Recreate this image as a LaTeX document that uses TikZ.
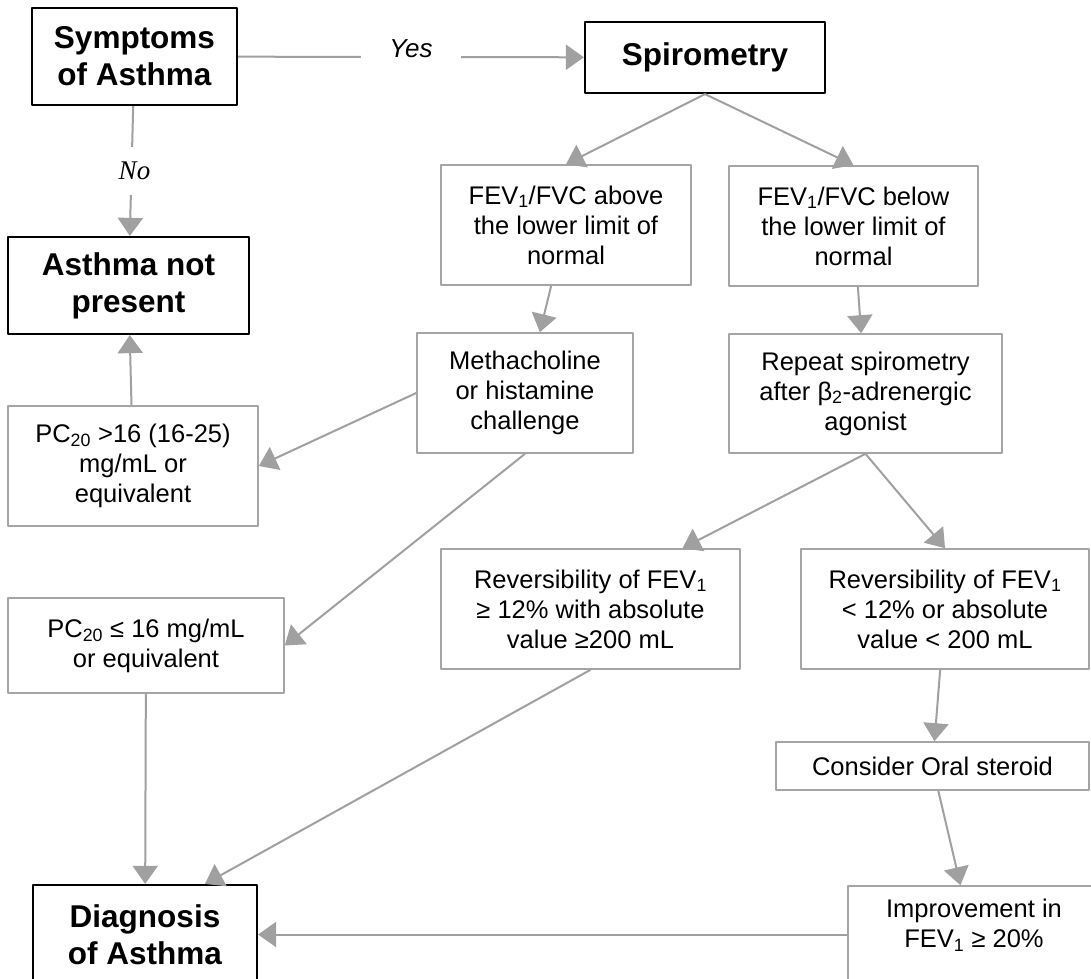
\documentclass[tikz,border=0pt]{standalone}
\usepackage{fontspec}
\setmainfont{Liberation Sans}
\newfontfamily\noserif{Liberation Serif}
\usetikzlibrary{arrows.meta}
\definecolor{linegray}{RGB}{160,160,160}
\definecolor{boxgray}{RGB}{165,165,165}
\newcommand{\txtsize}{\fontsize{25.5}{30}\selectfont}
\newcommand{\hdsize}{\fontsize{31.5}{37}\selectfont\bfseries}
\newcommand{\fev}{FEV\textsubscript{1}}
\begin{document}
\begin{tikzpicture}[x=1pt, y=-1pt, line join=round, >={Triangle[length=18pt,width=25pt]},
	box/.style={draw=boxgray, line width=1.6pt, align=center, font=\txtsize, inner sep=0pt},
	headbox/.style={draw=black, line width=2.2pt, align=center, font=\hdsize, inner sep=0pt},
	conn/.style={->, draw=linegray, line width=2pt}]
	\useasboundingbox (0,0) rectangle (1091,978);
	% heading boxes
	\node[headbox, minimum width=205, minimum height=97] (sym) at (134.5,56.5) {Symptoms\\of Asthma};
	\node[headbox, minimum width=240, minimum height=71] (spiro) at (705,57.5) {Spirometry};
	\node[headbox, minimum width=241, minimum height=97] (anp) at (128.5,285.5) {Asthma not\\present};
	\node[headbox, minimum width=224, minimum height=99] (diag) at (145,934.5) {Diagnosis\\of Asthma};
	% test boxes
	\node[box, minimum width=250, minimum height=120] (above) at (566,225) {\fev/FVC above\\the lower limit of\\normal};
	\node[box, minimum width=249, minimum height=120] (below) at (853.5,226) {\fev/FVC below\\the lower limit of\\normal};
	\node[box, minimum width=216, minimum height=120] (metha) at (525,393) {Methacholine\\or histamine\\challenge};
	\node[box, minimum width=273, minimum height=119] (rep) at (865.5,393.5) {Repeat spirometry\\after β\textsubscript{2}-adrenergic\\agonist};
	\node[box, minimum width=250, minimum height=120] (pchigh) at (133,466) {PC\textsubscript{20} >16 (16-25)\\mg/mL or\\equivalent};
	\node[box, minimum width=276, minimum height=95] (pclow) at (146,645.5) {PC\textsubscript{20} ≤ 16 mg/mL\\or equivalent};
	\node[box, minimum width=299, minimum height=120] (revyes) at (590.5,609) {Reversibility of \fev\\≥ 12\% with absolute\\value ≥200 mL};
	\node[box, minimum width=288, minimum height=120] (revno) at (945,609) {Reversibility of \fev\\< 12\% or absolute\\value < 200 mL};
	\node[box, minimum width=313, minimum height=48] (oral) at (932.5,766) {Consider Oral steroid};
	\node[box, minimum width=252, minimum height=114] (improv) at (974,943) {Improvement in\\\fev{} ≥ 20\%\\\strut};
	% connectors
	\draw[conn] (sym) -- node[fill=white, minimum width=100, minimum height=40, yshift=8pt, font=\fontsize{26}{30}\selectfont\itshape]{Yes} (spiro);
	\draw[conn] (sym) -- node[fill=white, minimum width=40, minimum height=48, xshift=3pt, font=\fontsize{27}{30}\selectfont\noserif\itshape]{No} (anp);
	\draw[conn] (spiro.south) -- (above.north);
	\draw[conn] (spiro.south) -- (below.north);
	\draw[conn] (above) -- (metha);
	\draw[conn] (below) -- (rep);
	\draw[conn] (metha.west) -- (pchigh.east);
	\draw[conn] (pchigh) -- (anp);
	\draw[conn] (metha.south) -- (pclow.east);
	\draw[conn] (pclow) -- (diag);
	\draw[conn] (rep.south) -- ([xshift=92pt]revyes.north);
	\draw[conn] (rep.south) -- (revno.north);
	\draw[conn] (revyes.south) -- ([xshift=60pt]diag.north);
	\draw[conn] (revno) -- (oral);
	\draw[conn] (oral) -- (improv);
	\draw[conn] (improv.west |- diag.east) -- (diag.east);
\end{tikzpicture}
\end{document}
